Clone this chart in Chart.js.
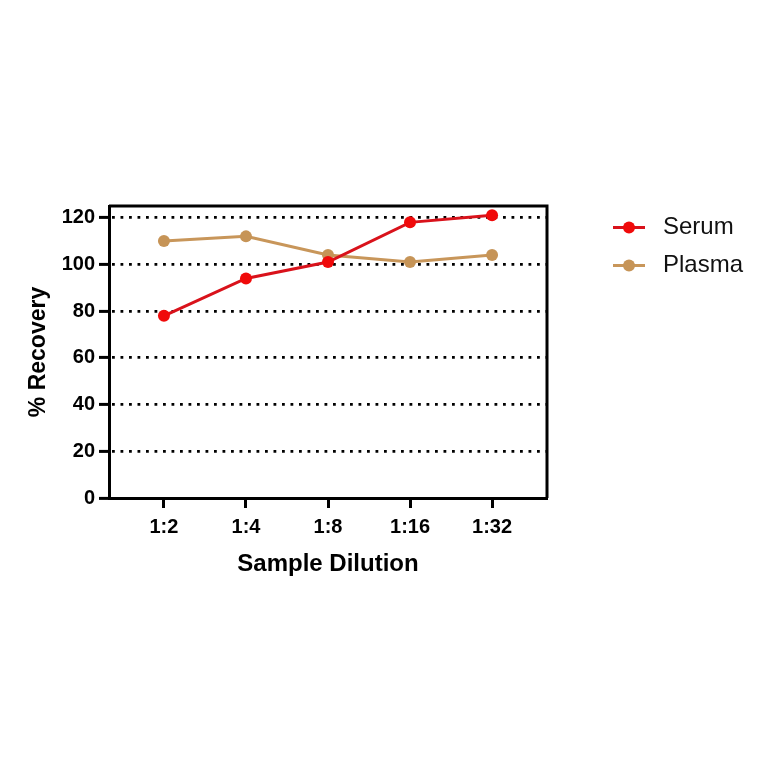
<!DOCTYPE html>
<html>
<head>
<meta charset="utf-8">
<script src="https://cdn.jsdelivr.net/npm/chart.js@4/dist/chart.umd.min.js"></script>
<style>
  html, body { margin: 0; padding: 0; background: #fff; }
  #wrap { width: 764px; height: 764px; position: relative; }
</style>
</head>
<body>
<div id="wrap"><canvas id="chart"></canvas></div>
<script>
  // values
  const dilutions = ['1:2', '1:4', '1:8', '1:16', '1:32'];
  const serum = [78, 94, 101, 118, 121];
  const plasma = [110, 112, 104, 101, 104];
  const yTicks = [0, 20, 40, 60, 80, 100, 120];

  Chart.defaults.font.family = "'Liberation Sans', Arial, sans-serif";
  Chart.defaults.color = '#000';

  function toPoints(arr) {
    return arr.map((v, i) => ({ x: i, y: v }));
  }

  // frame round the plot area + legend on the right (line + dot + label)
  const framePlugin = {
    id: 'frame',
    afterDraw(chart) {
      const { ctx, chartArea: a } = chart;
      ctx.save();
      ctx.strokeStyle = '#000';
      ctx.lineWidth = 3;
      ctx.beginPath();
      ctx.moveTo(a.left, a.top);
      ctx.lineTo(a.right, a.top);
      ctx.lineTo(a.right, a.bottom);
      ctx.stroke();

      const rows = [227.5, 265.5];
      chart.data.datasets.forEach((ds, i) => {
        const y = rows[i];
        ctx.strokeStyle = ds.borderColor;
        ctx.lineWidth = 3;
        ctx.beginPath();
        ctx.moveTo(613, y);
        ctx.lineTo(645, y);
        ctx.stroke();
        ctx.fillStyle = ds.pointBackgroundColor;
        ctx.beginPath();
        ctx.arc(629, y, 6, 0, Math.PI * 2);
        ctx.fill();
        ctx.fillStyle = '#111';
        ctx.font = "24px 'Liberation Sans', Arial, sans-serif";
        ctx.textAlign = 'left';
        ctx.textBaseline = 'middle';
        ctx.fillText(ds.label, 663, y);
      });
      ctx.restore();
    }
  };

  new Chart(document.getElementById('chart'), {
    type: 'line',
    data: {
      datasets: [
        {
          label: 'Serum',
          data: toPoints(serum),
          borderColor: '#d9121b',
          pointBackgroundColor: '#f00a0a',
          pointBorderColor: '#f00a0a',
          borderWidth: 3,
          pointRadius: 6,
          pointBorderWidth: 0,
          tension: 0
        },
        {
          label: 'Plasma',
          data: toPoints(plasma),
          borderColor: '#c8965a',
          pointBackgroundColor: '#c69457',
          pointBorderColor: '#c69457',
          borderWidth: 3,
          pointRadius: 6,
          pointBorderWidth: 0,
          tension: 0
        }
      ]
    },
    options: {
      responsive: true,
      maintainAspectRatio: false,
      animation: false,
      devicePixelRatio: 1,
      layout: { padding: { top: 206, right: 217, left: 0, bottom: 0 } },
      plugins: {
        legend: { display: false },
        tooltip: { enabled: false }
      },
      scales: {
        x: {
          type: 'linear',
          min: -0.67,
          max: 4.67,
          afterBuildTicks: (s) => { s.ticks = dilutions.map((d, i) => ({ value: i })); },
          afterFit: (s) => { s.height = 266; },
          ticks: {
            callback: (v) => dilutions[v],
            font: { size: 20, weight: 'bold' },
            padding: 7,
            maxRotation: 0
          },
          grid: {
            drawOnChartArea: false,
            drawTicks: true,
            tickLength: 10,
            tickWidth: 3,
            tickColor: '#000',
            tickBorderDash: []
          },
          border: { display: true, color: '#000', width: 3 },
          title: {
            display: true,
            text: 'Sample Dilution',
            font: { size: 24, weight: 'bold' },
            padding: { top: 0, bottom: 185 }
          }
        },
        y: {
          min: 0,
          max: 125,
          afterBuildTicks: (s) => { s.ticks = yTicks.map((v) => ({ value: v })); },
          afterFit: (s) => { s.width = 109; },
          ticks: {
            font: { size: 20, weight: 'bold' },
            padding: 4
          },
          grid: {
            color: '#000',
            lineWidth: 2.8,
            drawTicks: true,
            tickLength: 10,
            tickWidth: 3,
            tickColor: '#000',
            tickBorderDash: []
          },
          border: { display: true, color: '#000', width: 3, dash: [2.8, 5.7], dashOffset: -1 },
          title: {
            display: true,
            text: '% Recovery',
            font: { size: 23, weight: 'bold' },
            padding: { top: 25, bottom: 0 }
          }
        }
      }
    },
    plugins: [framePlugin]
  });
</script>
</body>
</html>
